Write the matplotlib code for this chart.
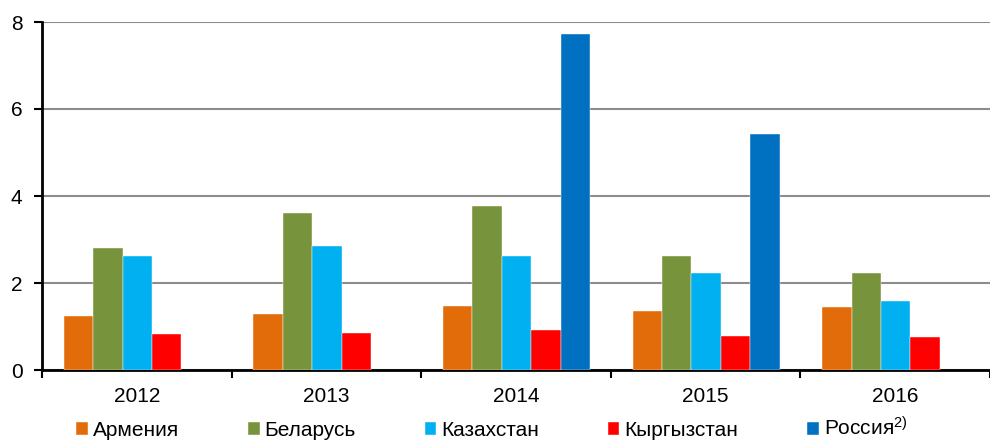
import numpy as np
import matplotlib
matplotlib.use('Agg')
import matplotlib.pyplot as plt

plt.rcParams['font.family'] = ['Liberation Sans', 'DejaVu Sans']
plt.rcParams['mathtext.fontset'] = 'custom'
plt.rcParams['mathtext.rm'] = 'Liberation Sans'
plt.rcParams['mathtext.it'] = 'Liberation Sans'

years = ['2012', '2013', '2014', '2015', '2016']
armenia = [1.23, 1.28, 1.46, 1.35, 1.44]
belarus = [2.81, 3.61, 3.77, 2.61, 2.22]
kazakhstan = [2.61, 2.86, 2.63, 2.24, 1.58]
kyrgyzstan = [0.82, 0.85, 0.91, 0.78, 0.75]
russia = [np.nan, np.nan, 7.73, 5.42, np.nan]

series = [
    ('Армения', armenia, '#E36C0A'),
    ('Беларусь', belarus, '#77933C'),
    ('Казахстан', kazakhstan, '#00B0F0'),
    ('Кыргызстан', kyrgyzstan, '#FF0000'),
    ('Россия$^{2)}$', russia, '#0070C0'),
]

fig = plt.figure(figsize=(9.9, 4.4), dpi=100)
ax = fig.add_axes([42/990, 1-370/440, 1-42/990, 348/440])

x = np.arange(len(years))
w = 0.155
start = -0.5 + 22/191
for i, (name, vals, col) in enumerate(series):
    ax.bar(x + start + w*(i+0.5), vals, width=w, color=col, label=name,
           edgecolor='white', linewidth=0.3, zorder=3)

ax.set_xlim(-0.5, len(years) - 0.5)
ax.set_ylim(0, 8)
ax.set_yticks([0, 2, 4, 6, 8])
ax.yaxis.grid(True, color='#8c8c8c', linewidth=1.5, zorder=0)

# category boundaries get the tick marks, labels sit in the middle
ax.set_xticks(np.arange(-0.5, len(years)), minor=False)
ax.set_xticklabels([])
ax.set_xticks(x, minor=True)
ax.set_xticklabels(years, minor=True)
ax.tick_params(axis='x', which='major', length=6, width=1.5, direction='out')
ax.tick_params(axis='x', which='minor', length=0, pad=12, labelsize=15)
ax.tick_params(axis='y', length=6, width=1.5, direction='out', labelsize=15, pad=8)

for s in ['top', 'right']:
    ax.spines[s].set_visible(False)
for s in ['left', 'bottom']:
    ax.spines[s].set_linewidth(2)

fig.legend(loc='center', bbox_to_anchor=(0.497, 1-428/440), ncol=5, frameon=False,
           fontsize=15, handlelength=0.55, handleheight=0.55, handletextpad=0.25,
           columnspacing=3.3, borderpad=0)

fig.savefig('out.png', dpi=100)
